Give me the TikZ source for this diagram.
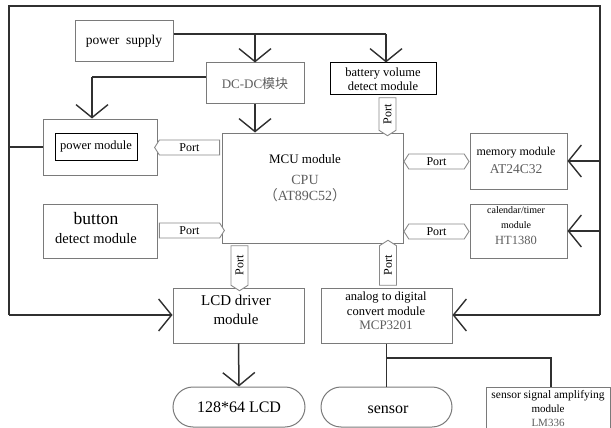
\documentclass[tikz,border=0pt]{standalone}
\usepackage{fontspec}
\setmainfont{Liberation Serif}
\newfontfamily\cjk{Noto Sans CJK SC}
\usetikzlibrary{arrows.meta,shapes.symbols,shapes.misc}
\definecolor{linec}{HTML}{303030}
\definecolor{boxc}{HTML}{7A7A7A}
\definecolor{tgray}{HTML}{5E5E5E}
\definecolor{portc}{HTML}{8A8A8A}
\newcommand{\fsz}[1]{\fontsize{#1}{#1}\selectfont}
\begin{document}
\begin{tikzpicture}[x=1pt,y=-1pt,
  box/.style={draw=boxc, line width=1pt, fill=white, align=center, inner sep=0pt},
  blackbox/.style={draw=black, line width=1pt, fill=white, align=center, inner sep=0pt},
  txt/.style={align=center, inner sep=0pt},
  line/.style={draw=linec, line width=1.5pt},
  arr/.style={line, -{Straight Barb[length=13pt,width=32pt,line width=1.4pt]}},
  port/.style={signal, draw=portc, fill=white, line width=0.9pt, inner sep=0pt,
     signal pointer angle=115, minimum height=15, font=\fsz{12}},
  stadium/.style={draw=boxc, line width=1pt, fill=white, rounded rectangle, inner sep=0pt}
]
\fill[white] (0,0) rectangle (611,428);
\useasboundingbox (0,0) rectangle (611,428);

% boxes
\node[box, font=\fsz{13.5}, minimum width=98, minimum height=41] (ps) at (124,41.5) {power\ \ supply};
\node[box, font=\fsz{13}, minimum width=98, minimum height=41, text=tgray] (dc) at (255,83.5) {DC-DC{\cjk 模块}};
\node[blackbox, font=\fsz{12.5}, minimum width=106, minimum height=32] (bat) at (383,79) {battery volume\\[1pt]detect module};
\node[box, minimum width=114, minimum height=56] (pmo) at (100,147) {};
\node[blackbox, font=\fsz{12.5}, minimum width=82, minimum height=27] (pmi) at (96,146.5) {power module};
\node[box, minimum width=181, minimum height=110] (mcu) at (312.5,188) {};
\node[txt] (mcut) at (305,178) {{\fsz{13}MCU module}\\[9pt]{\fsz{14}\color{tgray}CPU}\\[3pt]{\fsz{14}\color{tgray}{\cjk （}AT89C52{\cjk ）}}};
\node[box, minimum width=114, minimum height=54] (btn) at (100,231) {};
\node[txt] (btnt) at (96,228) {{\fsz{17.5}button}\\[7pt]{\fsz{14.5}detect module}};
\node[box, minimum width=97, minimum height=56] (mem) at (518.5,161) {};
\node[txt] (memt) at (516,160) {{\fsz{12}memory module}\\[6pt]{\fsz{13.5}\color{tgray}AT24C32}};
\node[box, minimum width=97, minimum height=54] (cal) at (518.5,231) {};
\node[txt] (calt) at (516,226) {{\fsz{10}calendar/timer}\\[3pt]{\fsz{10}module}\\[4pt]{\fsz{12.5}\color{tgray}HT1380}};
\node[box, minimum width=131, minimum height=55] (lcdd) at (238.5,315.5) {};
\node[txt, font=\fsz{15}] (lcddt) at (236,310) {LCD driver\\[4pt]module};
\node[box, minimum width=131, minimum height=55] (adc) at (386.5,315.5) {};
\node[txt] (adct) at (386,310.5) {{\fsz{12.5}analog to digital}\\[3pt]{\fsz{12.5}convert module}\\[2pt]{\fsz{13}\color{tgray}MCP3201}};
\node[stadium, font=\fsz{16}, minimum width=132, minimum height=40] (lcd) at (239,407) {128*64 LCD};
\node[stadium, minimum width=131, minimum height=40] (sen) at (386.5,407) {};
\node[txt, font=\fsz{16}] (sent) at (388,410) {sensor};
\node[box, minimum width=124, minimum height=41] (amp) at (548,407.5) {};
\node[txt] (ampt) at (548,409) {{\fsz{11.5}sensor signal amplifying}\\[2pt]{\fsz{11}module}\\[2pt]{\fsz{11}\color{tgray}LM336}};

% ports
\node[port, signal to=west, minimum width=65] (p1) at (189.5,147.5) {Port};
\node[port, signal to=east, minimum width=65] (p2) at (189.5,230.5) {Port};
\node[port, signal to={west and east}, minimum width=65] (p3) at (436.5,161.5) {Port};
\node[port, signal to={west and east}, minimum width=65] (p4) at (436.5,231.5) {Port};
\node[port, rotate=90, signal to=west, minimum width=38, minimum height=17] (p5) at (387.5,114) {Port};
\node[port, rotate=90, signal to=west, minimum width=45, minimum height=17] (p6) at (239.5,265.5) {Port};
\node[port, rotate=90, signal to=east, minimum width=45, minimum height=17] (p7) at (388,265.5) {Port};

% connector coordinates
\coordinate (j1) at (255,34);
\coordinate (j2) at (386,34);
\coordinate (j3) at (92,77);
\coordinate (j4) at (386.5,358);
\coordinate (j5) at (551,358);
\coordinate (fTL) at (9,6);
\coordinate (fTR) at (600,6);
\coordinate (fBL) at (9,315);
\coordinate (fBR) at (600,315);

% power supply
\draw[line] (j1 -| ps.east) -- (j2);
\draw[arr] (j2) -- (j2 |- bat.north);
\draw[arr] (j1) -- (dc.north);
% DC-DC
\draw[line] (j3 -| dc.west) -- (j3);
\draw[arr] (j3) -- (j3 |- pmo.north);
\draw[arr] (dc.south) -- (dc.south |- mcu.north);
% frame
\draw[line] (pmo.west) -- (pmo.west -| fTL);
\draw[line] (fBL) -- (fTL) -- (fTR) -- (fBR);
\draw[arr] (fBL) -- (fBL -| lcdd.west);
\draw[arr] (fBR) -- (fBR -| adc.east);
\draw[arr] (mem.east -| fTR) -- (mem.east);
\draw[arr] (cal.east -| fTR) -- (cal.east);
% bottom
\draw[arr] (lcdd.south) -- (lcd.north);
\draw[line] (adc.south) -- (sen.north);
\draw[line] (j4) -- (j5) -- (j5 |- amp.north);
\end{tikzpicture}
\end{document}
